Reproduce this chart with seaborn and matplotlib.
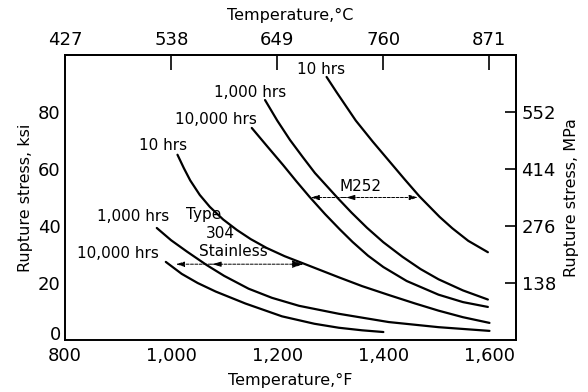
import numpy as np
import pandas as pd
import matplotlib
matplotlib.use("Agg")
import matplotlib.pyplot as plt
import seaborn as sns

# ---------------- data ----------------
m252_10_T = [1293, 1312, 1348, 1380, 1410, 1440, 1468, 1506, 1530, 1560, 1597]
m252_10_S = [92.3, 86.9, 77.0, 69.6, 63.0, 56.4, 50.4, 43.2, 39.2, 34.8, 30.8]

m252_1000_T = [1177, 1200, 1224, 1248, 1271, 1314, 1340, 1369, 1400, 1436, 1470, 1504, 1550, 1597]
m252_1000_S = [84.2, 77.0, 70.2, 64.2, 58.6, 49.8, 44.7, 39.4, 34.3, 29.2, 24.9, 21.3, 17.4, 14.2]

m252_10000_T = [1152, 1180, 1211, 1236, 1261, 1290, 1318, 1342, 1371, 1400, 1444, 1504, 1550, 1597]
m252_10000_S = [74.4, 68.2, 61.4, 55.7, 50.2, 44.2, 38.8, 34.4, 29.6, 25.6, 20.7, 15.9, 13.3, 11.6]

ss304_10_T = [1012, 1024, 1036, 1054, 1073, 1098, 1124, 1150, 1180, 1214, 1250, 1316, 1360, 1410, 1460, 1504, 1550, 1600]
ss304_10_S = [65.0, 60.3, 56.0, 50.9, 46.7, 42.3, 38.6, 35.4, 32.3, 29.4, 26.8, 22.0, 18.9, 15.8, 12.8, 10.3, 8.0, 6.0]

ss304_1000_T = [973, 1000, 1030, 1067, 1100, 1146, 1190, 1241, 1316, 1410, 1504, 1600]
ss304_1000_S = [39.3, 35.0, 31.0, 26.3, 22.5, 18.0, 14.8, 12.0, 9.2, 6.3, 4.5, 3.2]

ss304_10000_T = [990, 1020, 1050, 1084, 1140, 1209, 1270, 1316, 1360, 1400]
ss304_10000_S = [27.4, 23.2, 20.0, 17.0, 12.8, 8.3, 5.7, 4.3, 3.4, 2.8]

curve_names = ["M252 10 hrs", "M252 1,000 hrs", "M252 10,000 hrs",
               "304 10 hrs", "304 1,000 hrs", "304 10,000 hrs"]
curve_T = [m252_10_T, m252_1000_T, m252_10000_T, ss304_10_T, ss304_1000_T, ss304_10000_T]
curve_S = [m252_10_S, m252_1000_S, m252_10000_S, ss304_10_S, ss304_1000_S, ss304_10000_S]

x_major = [800, 1000, 1200, 1400, 1600]
x_major_labels = ["800", "1,000", "1,200", "1,400", "1,600"]
x_minor = [900, 1100, 1300, 1500]
y_major = [0, 20, 40, 60, 80]
y_minor = [10, 30, 50, 70, 90]
c_ticks = [427, 538, 649, 760, 871]
mpa_ticks = [138, 276, 414, 552]

# curve labels: text, T, S
curve_labels = [("10 hrs", 1282, 95.0), ("1,000 hrs", 1148, 87.0), ("10,000 hrs", 1085, 77.5),
                ("10 hrs", 985, 68.4), ("1,000 hrs", 928, 43.2), ("10,000 hrs", 900, 30.5)]
group_labels = [("Type", 1062, 43.9), ("304", 1092, 37.5), ("Stainless", 1117, 30.9),
                ("M252", 1357, 53.7)]

rows = []
for name, T, S in zip(curve_names, curve_T, curve_S):
    for t, s in zip(T, S):
        rows.append({"T": t, "S": s, "curve": name})
df = pd.DataFrame(rows)

# ---------------- figure ----------------
sns.set_style("white")
plt.rcParams["font.family"] = ["DejaVu Sans"]
plt.rcParams["text.color"] = "black"
plt.rcParams["axes.labelcolor"] = "black"
plt.rcParams["xtick.color"] = "black"
plt.rcParams["ytick.color"] = "black"

fig = plt.figure(figsize=(5.88, 3.92), dpi=100)
ax = fig.add_axes([65 / 588, 52 / 392, 451 / 588, 285 / 392])

sns.lineplot(data=df, x="T", y="S", units="curve", estimator=None, sort=False,
             color="black", linewidth=1.6, ax=ax, legend=False)

ax.set_xlim(800, 1650)
ax.set_ylim(0, 100)

for sp in ax.spines.values():
    sp.set_visible(True)
    sp.set_color("black")
    sp.set_linewidth(1.4)

ax.set_xticks(x_major)
ax.set_xticklabels(x_major_labels)
ax.set_xticks(x_minor, minor=True)
ax.set_yticks(y_major)
ax.set_yticklabels([str(v) for v in y_major])
ax.set_yticks(y_minor, minor=True)
ax.tick_params(axis="both", which="major", direction="in", length=6, width=1.2,
               labelsize=13, colors="black", top=False, right=False)
ax.tick_params(axis="both", which="minor", direction="in", length=5, width=1.2,
               top=False, right=False)
ax.tick_params(axis="x", which="major", pad=5)
ax.tick_params(axis="y", which="major", pad=3)
for lab in ax.get_yticklabels():
    if lab.get_text() == "0":
        lab.set_va("baseline")

ax.set_xlabel("Temperature,°F", fontsize=11.5, labelpad=6)
ax.set_ylabel("Rupture stress, ksi", fontsize=11.5, labelpad=4)

def f2c(f):
    return (np.asarray(f) - 32.0) * 5.0 / 9.0

def c2f(c):
    return np.asarray(c) * 9.0 / 5.0 + 32.0

def ksi2mpa(k):
    return np.asarray(k) * 6.895

def mpa2ksi(m):
    return np.asarray(m) / 6.895

secx = ax.secondary_xaxis("top", functions=(f2c, c2f))
secx.set_xticks(c_ticks)
secx.set_xticklabels([str(v) for v in c_ticks])
secx.tick_params(direction="in", length=11, width=1.2, labelsize=13, pad=4)
secx.set_xlabel("Temperature,°C", fontsize=11.5, labelpad=8)
secx.spines["top"].set_linewidth(1.4)

secy = ax.secondary_yaxis("right", functions=(ksi2mpa, mpa2ksi))
secy.set_yticks(mpa_ticks)
secy.set_yticklabels([str(v) for v in mpa_ticks])
secy.tick_params(direction="in", length=8, width=1.2, labelsize=13, pad=4)
secy.set_ylabel("Rupture stress, MPa", fontsize=11.5, labelpad=6)
secy.spines["right"].set_linewidth(1.4)

for txt, t, s in curve_labels:
    ax.text(t, s, txt, ha="center", va="center", fontsize=11)
for txt, t, s in group_labels:
    ax.text(t, s, txt, ha="center", va="center", fontsize=11)

# dimension arrows
arrow_kw = dict(arrowstyle="-|>,head_length=0.5,head_width=0.15", color="black",
                lw=0.7, linestyle=(0, (3, 1.5)), shrinkA=0, shrinkB=0)
head_kw = dict(arrowstyle="-|>,head_length=0.5,head_width=0.15", color="black",
               lw=0.7, shrinkA=0, shrinkB=0)
m252_y = 50.0
ax.annotate("", xy=(1263, m252_y), xytext=(1325, m252_y), arrowprops=arrow_kw)
ax.annotate("", xy=(1465, m252_y), xytext=(1325, m252_y), arrowprops=arrow_kw)
ax.annotate("", xy=(1330, m252_y), xytext=(1345, m252_y), arrowprops=head_kw)
ss_y = 26.6
ax.annotate("", xy=(1009, ss_y), xytext=(1075, ss_y), arrowprops=arrow_kw)
ax.annotate("", xy=(1250, ss_y), xytext=(1075, ss_y),
            arrowprops=dict(head_kw, arrowstyle="-|>,head_length=0.7,head_width=0.22",
                            linestyle=(0, (3, 1.5))))
ax.annotate("", xy=(1078, ss_y), xytext=(1093, ss_y), arrowprops=head_kw)

fig.savefig("out.png", dpi=100)
